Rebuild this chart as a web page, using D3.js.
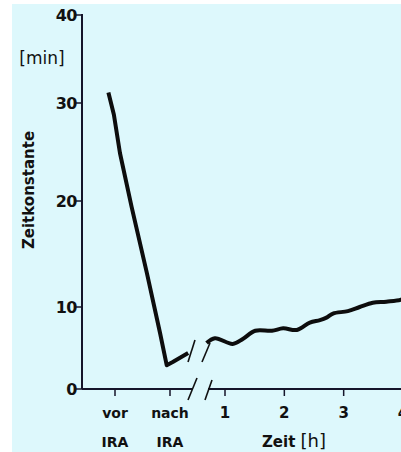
<!DOCTYPE html>
<html>
<head>
<meta charset="utf-8">
<script src="https://cdn.jsdelivr.net/npm/d3@7"></script>
<style>
  body { margin: 0; background: #fff; }
  text { font-family: "DejaVu Sans", sans-serif; fill: #111; }
</style>
</head>
<body>
<script>
// Data
const yTicks = [0, 10, 20, 30, 40];
const phaseLabels = [['vor', 'IRA'], ['nach', 'IRA']];
const hourTicks = [1, 2, 3, 4];

// before / after IRA (phase 0 = vor, 1 = nach)
const phase = [-0.12, -0.02, 0.09, 0.30, 0.58, 0.82, 0.94, 1.05, 1.33];
const phaseValue = [31.2, 28.8, 24.9, 19.5, 13.2, 6.8, 2.9, 3.3, 4.4];

// time course in hours
const hours = [0.69, 0.83, 1.13, 1.30, 1.51, 1.79, 1.98, 2.21, 2.43, 2.60, 2.71, 2.82, 3.07, 3.27, 3.49, 3.72, 3.97, 4.05];
const hourValue = [5.6, 6.2, 5.5, 6.1, 7.1, 7.1, 7.4, 7.2, 8.1, 8.4, 8.7, 9.2, 9.5, 10.0, 10.4, 10.5, 10.7, 11.0];

const width = 401;
const height = 452;

const svg = d3.select('body')
    .append('svg')
    .attr('width', width)
    .attr('height', height);

svg.append('rect')
    .attr('x', 12).attr('y', 4)
    .attr('width', width - 12).attr('height', height - 4)
    .attr('fill', '#ddf8fc');

// hand drawn axis, not quite even
const y = d3.scaleLinear()
    .domain(yTicks)
    .range([389, 307, 201, 103, 15]);

const xPhase = d3.scaleLinear().domain([0, 1]).range([115, 170]);
const xHour = d3.scaleLinear().domain([1, 4]).range([225, 403]);

const axisColor = '#15152a';

// y axis
svg.append('line')
    .attr('x1', 82).attr('x2', 82)
    .attr('y1', y(40) - 1).attr('y2', y(0))
    .attr('stroke', axisColor).attr('stroke-width', 2);

svg.selectAll('.ytick')
    .data(yTicks)
    .enter().append('line')
    .attr('x1', 76).attr('x2', 82)
    .attr('y1', d => y(d)).attr('y2', d => y(d))
    .attr('stroke', axisColor).attr('stroke-width', 1.5);

svg.selectAll('.ylab')
    .data(yTicks)
    .enter().append('text')
    .attr('x', 77)
    .attr('y', d => y(d))
    .attr('dy', '0.36em')
    .attr('text-anchor', 'end')
    .attr('font-size', 16)
    .attr('font-weight', 'bold')
    .attr('letter-spacing', -0.5)
    .text(d => d);

svg.append('text')
    .attr('x', 42).attr('y', 58)
    .attr('dy', '0.36em')
    .attr('text-anchor', 'middle')
    .attr('font-size', 17)
    .text('[min]');

svg.append('text')
    .attr('transform', 'translate(29,190) rotate(-90)')
    .attr('dy', '0.36em')
    .attr('text-anchor', 'middle')
    .attr('font-size', 15)
    .attr('font-weight', 'bold')
    .text('Zeitkonstante');

// x axis, broken
const x0 = y(0);
svg.append('line')
    .attr('x1', 82).attr('x2', 192)
    .attr('y1', x0).attr('y2', x0)
    .attr('stroke', axisColor).attr('stroke-width', 2);
svg.append('line')
    .attr('x1', 208).attr('x2', width)
    .attr('y1', x0).attr('y2', x0)
    .attr('stroke', axisColor).attr('stroke-width', 2);

// break marks
const breaks = [[188, 400, 197, 378], [205, 400, 212, 380], [188, 362, 195, 340], [202, 362, 210, 343]];
svg.selectAll('.brk')
    .data(breaks)
    .enter().append('line')
    .attr('x1', d => d[0]).attr('y1', d => d[1])
    .attr('x2', d => d[2]).attr('y2', d => d[3])
    .attr('stroke', '#111').attr('stroke-width', 1.6);

const tickX = [xPhase(0), xPhase(1)].concat(hourTicks.map(d => xHour(d)));
svg.selectAll('.xtick')
    .data(tickX)
    .enter().append('line')
    .attr('x1', d => d).attr('x2', d => d)
    .attr('y1', x0).attr('y2', x0 + 7)
    .attr('stroke', axisColor).attr('stroke-width', 1.5);

phaseLabels.forEach((lab, i) => {
    lab.forEach((t, j) => {
        svg.append('text')
            .attr('x', xPhase(i))
            .attr('y', 413 + j * 29)
            .attr('dy', '0.36em')
            .attr('text-anchor', 'middle')
            .attr('font-size', 14)
            .attr('font-weight', 'bold')
            .text(t);
    });
});

svg.selectAll('.xlab')
    .data(hourTicks)
    .enter().append('text')
    .attr('x', d => xHour(d))
    .attr('y', 413)
    .attr('dy', '0.36em')
    .attr('text-anchor', 'middle')
    .attr('font-size', 15)
    .attr('font-weight', 'bold')
    .text(d => d);

const xt = svg.append('text')
    .attr('x', 294).attr('y', 442)
    .attr('dy', '0.36em')
    .attr('text-anchor', 'middle')
    .attr('font-size', 15);
xt.append('tspan').attr('font-weight', 'bold').text('Zeit ');
xt.append('tspan').attr('font-size', 18).text('[h]');

// curves
const line1 = d3.line()
    .x((d, i) => xPhase(phase[i]))
    .y(d => y(d));

const line2 = d3.line()
    .x((d, i) => xHour(hours[i]))
    .y(d => y(d))
    .curve(d3.curveCatmullRom);

svg.append('path')
    .attr('d', line1(phaseValue))
    .attr('fill', 'none')
    .attr('stroke', '#0d0d0d')
    .attr('stroke-width', 4)
    .attr('stroke-linejoin', 'round');

svg.append('path')
    .attr('d', line2(hourValue))
    .attr('fill', 'none')
    .attr('stroke', '#0d0d0d')
    .attr('stroke-width', 4)
    .attr('stroke-linejoin', 'round');
</script>
</body>
</html>
